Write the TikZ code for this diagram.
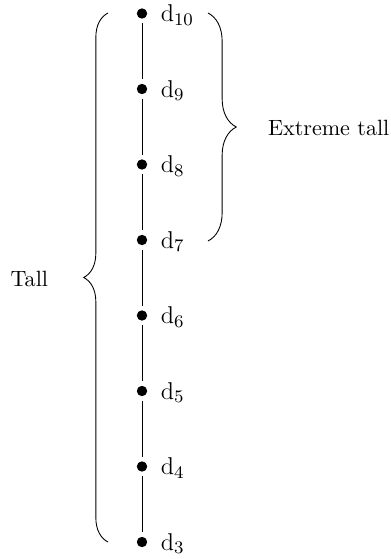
\documentclass[tikz,border=0pt]{standalone}
\usetikzlibrary{decorations.pathreplacing}
\begin{document}
\begin{tikzpicture}[x=0.4525pt,y=-0.4525pt,
  dotnode/.style={circle,fill=black,inner sep=0pt,minimum size=4.7pt},
  dlabel/.style={anchor=base west,inner sep=0pt,font=\fontsize{11}{13}\selectfont},
  link/.style={draw=black,line width=0.4pt,shorten <=1.9pt,shorten >=1.9pt},
  bracetext/.style={inner sep=0pt,font=\normalsize}]
\useasboundingbox (0,0) rectangle (390,559);
% dots
\foreach \n [count=\k from 0] in {10,9,8,7,6,5,4,3}{
  \node[dotnode] (d\n) at (142,{13.5+75.5*\k}) {};
  \node[dlabel] (l\n) at ([xshift=8.3pt,yshift=-3.7pt]d\n.center) {d$_{\n}$};
}
% links
\draw[link] (d10) -- (d9);
\draw[link] (d9) -- (d8);
\draw[link] (d8) -- (d7);
\draw[link] (d7) -- (d6);
\draw[link] (d6) -- (d5);
\draw[link] (d5) -- (d4);
\draw[link] (d4) -- (d3);
% braces
\coordinate (lb1) at (108,542);
\coordinate (lb2) at (108,13);
\draw[decorate,decoration={brace,amplitude=11pt},line width=0.4pt] (lb1) -- (lb2);
\coordinate (rb1) at (208,13);
\coordinate (rb2) at (208,241);
\draw[decorate,decoration={brace,amplitude=12.8pt},line width=0.4pt] (rb1) -- (rb2);
\node[bracetext,anchor=east] (tall) at (48.5,279) {Tall};
\node[bracetext,anchor=west] (xtall) at (267.6,127.5) {Extreme tall};
\end{tikzpicture}
\end{document}
